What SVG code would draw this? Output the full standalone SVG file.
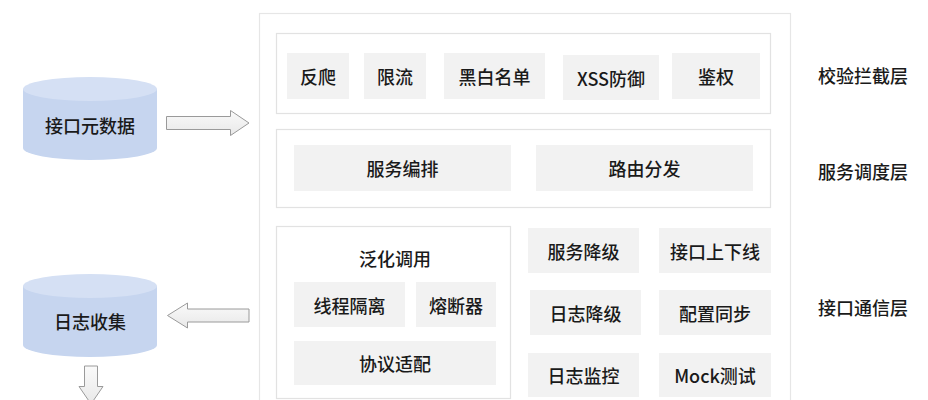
<svg xmlns="http://www.w3.org/2000/svg" width="928" height="400" viewBox="0 0 928 400">
<defs>
<style>
text{font-family:"Noto Sans CJK SC","Liberation Sans",sans-serif;font-size:18px;font-weight:500;fill:#1a1a1a;text-anchor:middle;dominant-baseline:central}
.item{fill:#f2f2f2}
.layer{fill:#fff;stroke:#e2e2e2;stroke-width:1.2}
.outer{fill:#fff;stroke:#e6e6e6;stroke-width:1.2}
.body{fill:#c6d5ef}
.top{fill:#d5e0f4}
.arrow{fill:url(#ag);stroke:#9a9a9a;stroke-width:1}
</style>
<linearGradient id="ag" x1="0" y1="0" x2="0" y2="1">
<stop offset="0" stop-color="#fafafa"/>
<stop offset="1" stop-color="#e8e8e8"/>
</linearGradient>
</defs>
<rect width="928" height="400" fill="#fff"/>
<g id="outer"><rect class="outer" x="259.5" y="13.5" width="531" height="400"/></g>

<g id="layer-check">
<rect class="layer" x="276.5" y="33.5" width="494" height="80"/>
<g id="n-fanpa"><rect class="item" x="287" y="53" width="62" height="46"/><text x="318" y="76">反爬</text></g>
<g id="n-xianliu"><rect class="item" x="364" y="53" width="62" height="46"/><text x="395" y="76">限流</text></g>
<g id="n-heibai"><rect class="item" x="444" y="53" width="101" height="46"/><text x="494.5" y="76">黑白名单</text></g>
<g id="n-xss"><rect class="item" x="563" y="55" width="96" height="45"/><text x="611" y="77.5">XSS防御</text></g>
<g id="n-jianquan"><rect class="item" x="672" y="53" width="88" height="46"/><text x="716" y="76">鉴权</text></g>
</g>

<g id="layer-dispatch">
<rect class="layer" x="276.5" y="129.5" width="494" height="78"/>
<g id="n-bianpai"><rect class="item" x="294" y="145" width="217" height="46"/><text x="402.5" y="168">服务编排</text></g>
<g id="n-luyou"><rect class="item" x="536" y="145" width="217" height="46"/><text x="644.5" y="168">路由分发</text></g>
</g>

<g id="layer-comm">
<rect class="layer" x="276.5" y="226.5" width="234" height="172"/>
<text x="395" y="258">泛化调用</text>
<g id="n-xiancheng"><rect class="item" x="294" y="282" width="111" height="45"/><text x="349.5" y="304.5">线程隔离</text></g>
<g id="n-rongduan"><rect class="item" x="416" y="282" width="80" height="45"/><text x="456" y="304.5">熔断器</text></g>
<g id="n-xieyi"><rect class="item" x="294" y="341" width="202" height="44"/><text x="395" y="363">协议适配</text></g>
<g id="n-fuwujiangji"><rect class="item" x="528" y="228" width="111" height="45"/><text x="583.5" y="250.5">服务降级</text></g>
<g id="n-jiekou"><rect class="item" x="659" y="228" width="112" height="45"/><text x="715" y="250.5">接口上下线</text></g>
<g id="n-rizhijiangji"><rect class="item" x="530" y="290" width="111" height="45"/><text x="585.5" y="312.5">日志降级</text></g>
<g id="n-peizhi"><rect class="item" x="659" y="290" width="112" height="45"/><text x="715" y="312.5">配置同步</text></g>
<g id="n-jiankong"><rect class="item" x="528" y="353" width="111" height="44"/><text x="583.5" y="375">日志监控</text></g>
<g id="n-mock"><rect class="item" x="659" y="353" width="112" height="44"/><text x="715" y="375">Mock测试</text></g>
</g>

<g id="labels">
<text x="863" y="75">校验拦截层</text>
<text x="863" y="171">服务调度层</text>
<text x="863" y="307">接口通信层</text>
</g>

<g id="db-meta">
<path class="body" d="M23 89 V148 A67 12 0 0 0 157 148 V89 Z"/>
<ellipse class="top" cx="90" cy="89" rx="67" ry="12"/>
<text x="90" y="125">接口元数据</text>
</g>
<g id="db-log">
<path class="body" d="M23 286 V345 A67 12 0 0 0 157 345 V286 Z"/>
<ellipse class="top" cx="90" cy="286" rx="67" ry="12"/>
<text x="90" y="321">日志收集</text>
</g>

<g id="connectors">
<path class="arrow" d="M166.5 116.5 H230.5 V110.5 L249 123 L230.5 135.5 V129.5 H166.5 Z"/>
<path class="arrow" d="M249 309 H187.5 V303 L167.5 315.5 L187.5 328 V322 H249 Z"/>
<path class="arrow" d="M84.5 366 H97.5 V386.5 H103 L91 404 L79 386.5 H84.5 Z"/>
</g>
</svg>
